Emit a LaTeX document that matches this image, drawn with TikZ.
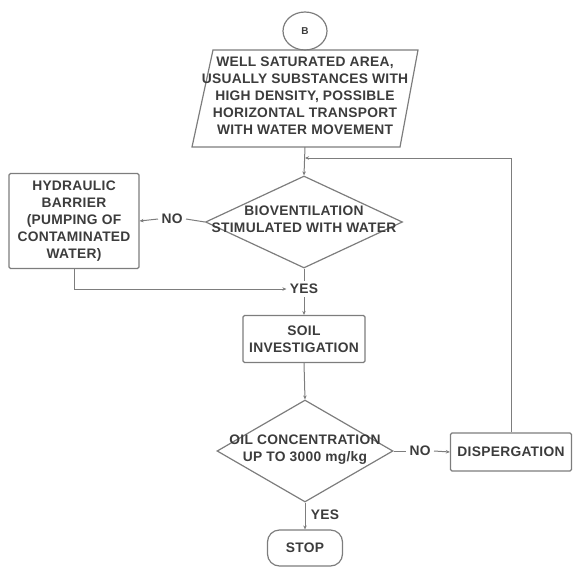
\documentclass[tikz,border=0pt]{standalone}
\usepackage{fontspec}
\setmainfont[LetterSpace=2]{Liberation Sans}
\usetikzlibrary{shapes.geometric,arrows.meta}
\definecolor{txt}{RGB}{60,60,60}
\definecolor{lnc}{RGB}{125,125,125}
\begin{document}
\begin{tikzpicture}[x=1pt,y=-1pt,
  every node/.style={font=\fontsize{13.8}{17}\selectfont\bfseries, text=txt, align=center},
  box/.style={draw=lnc, line width=1.2pt, rounded corners=1.5pt, inner sep=0pt},
  dia/.style={diamond, draw=lnc, line width=1.2pt, inner sep=0pt},
  arr/.style={draw=lnc, line width=1pt, -{Stealth[length=4pt,width=3.5pt]}},
  lne/.style={draw=lnc, line width=1pt}]
\useasboundingbox (0,0) rectangle (574,566);
% start
\node[ellipse, draw=lnc, line width=1.2pt, minimum width=44, minimum height=38, inner sep=0pt,
      font=\fontsize{10}{12}\selectfont\bfseries] (B) at (305,31) {B};
% parallelogram
\coordinate (pTL) at (213,50);
\coordinate (pTR) at (418,50);
\coordinate (pBR) at (400,147);
\coordinate (pBL) at (192,147);
\draw[lnc, line width=1.2pt] (pTL) -- (pTR) -- (pBR) -- (pBL) -- cycle;
\node (par) at (305,96) {WELL SATURATED AREA,\\USUALLY SUBSTANCES WITH\\HIGH DENSITY, POSSIBLE\\HORIZONTAL TRANSPORT\\WITH WATER MOVEMENT};
\coordinate (pout) at (305,147);
\coordinate (join) at (305,158);
% diamond 1
\node[dia, minimum width=197, minimum height=92, aspect=2.14] (d1) at (304,222) {};
\node at (304,219) {BIOVENTILATION\\STIMULATED WITH WATER};
% hydraulic barrier
\node[box, minimum width=130, minimum height=95] (hyd) at (74,221) {HYDRAULIC\\BARRIER\\(PUMPING OF\\CONTAMINATED\\WATER)};
\node (no1) at (172,219) {NO};
\node (yes1) at (304,289) {YES};
% soil investigation
\node[box, minimum width=122, minimum height=47] (soil) at (304,339) {SOIL\\INVESTIGATION};
% diamond 2
\node[dia, minimum width=176, minimum height=102, aspect=1.73] (d2) at (305,451) {};
\node at (305,450) {OIL CONCENTRATION\\UP TO 3000 mg/kg};
\node (no2) at (420,451) {NO};
\node[box, minimum width=121, minimum height=38] (disp) at (511,452) {DISPERGATION};
\node (yes2) at (325,515) {YES};
\node[draw=lnc, line width=1.2pt, rounded corners=12pt, minimum width=75, minimum height=36, inner sep=0pt] (stop) at (305,548) {STOP};
% connectors
\draw[arr] (pout) -- (d1.north);
\draw[arr] (disp.north) |- (join);
\draw[lne] (d1.west) -- (no1.east);
\draw[arr] (no1.west) -- (hyd.east);
\draw[lne] (d1.south) -- (yes1.north);
\draw[arr] (yes1.south) -- (soil.north);
\draw[arr] (hyd.south) |- (yes1.west);
\draw[arr] (soil.south) -- (d2.north);
\draw[lne] (d2.east) -- (no2.west);
\draw[arr] (no2.east) -- (disp.west);
\draw[arr] (d2.south) -- (stop.north);
\end{tikzpicture}
\end{document}
